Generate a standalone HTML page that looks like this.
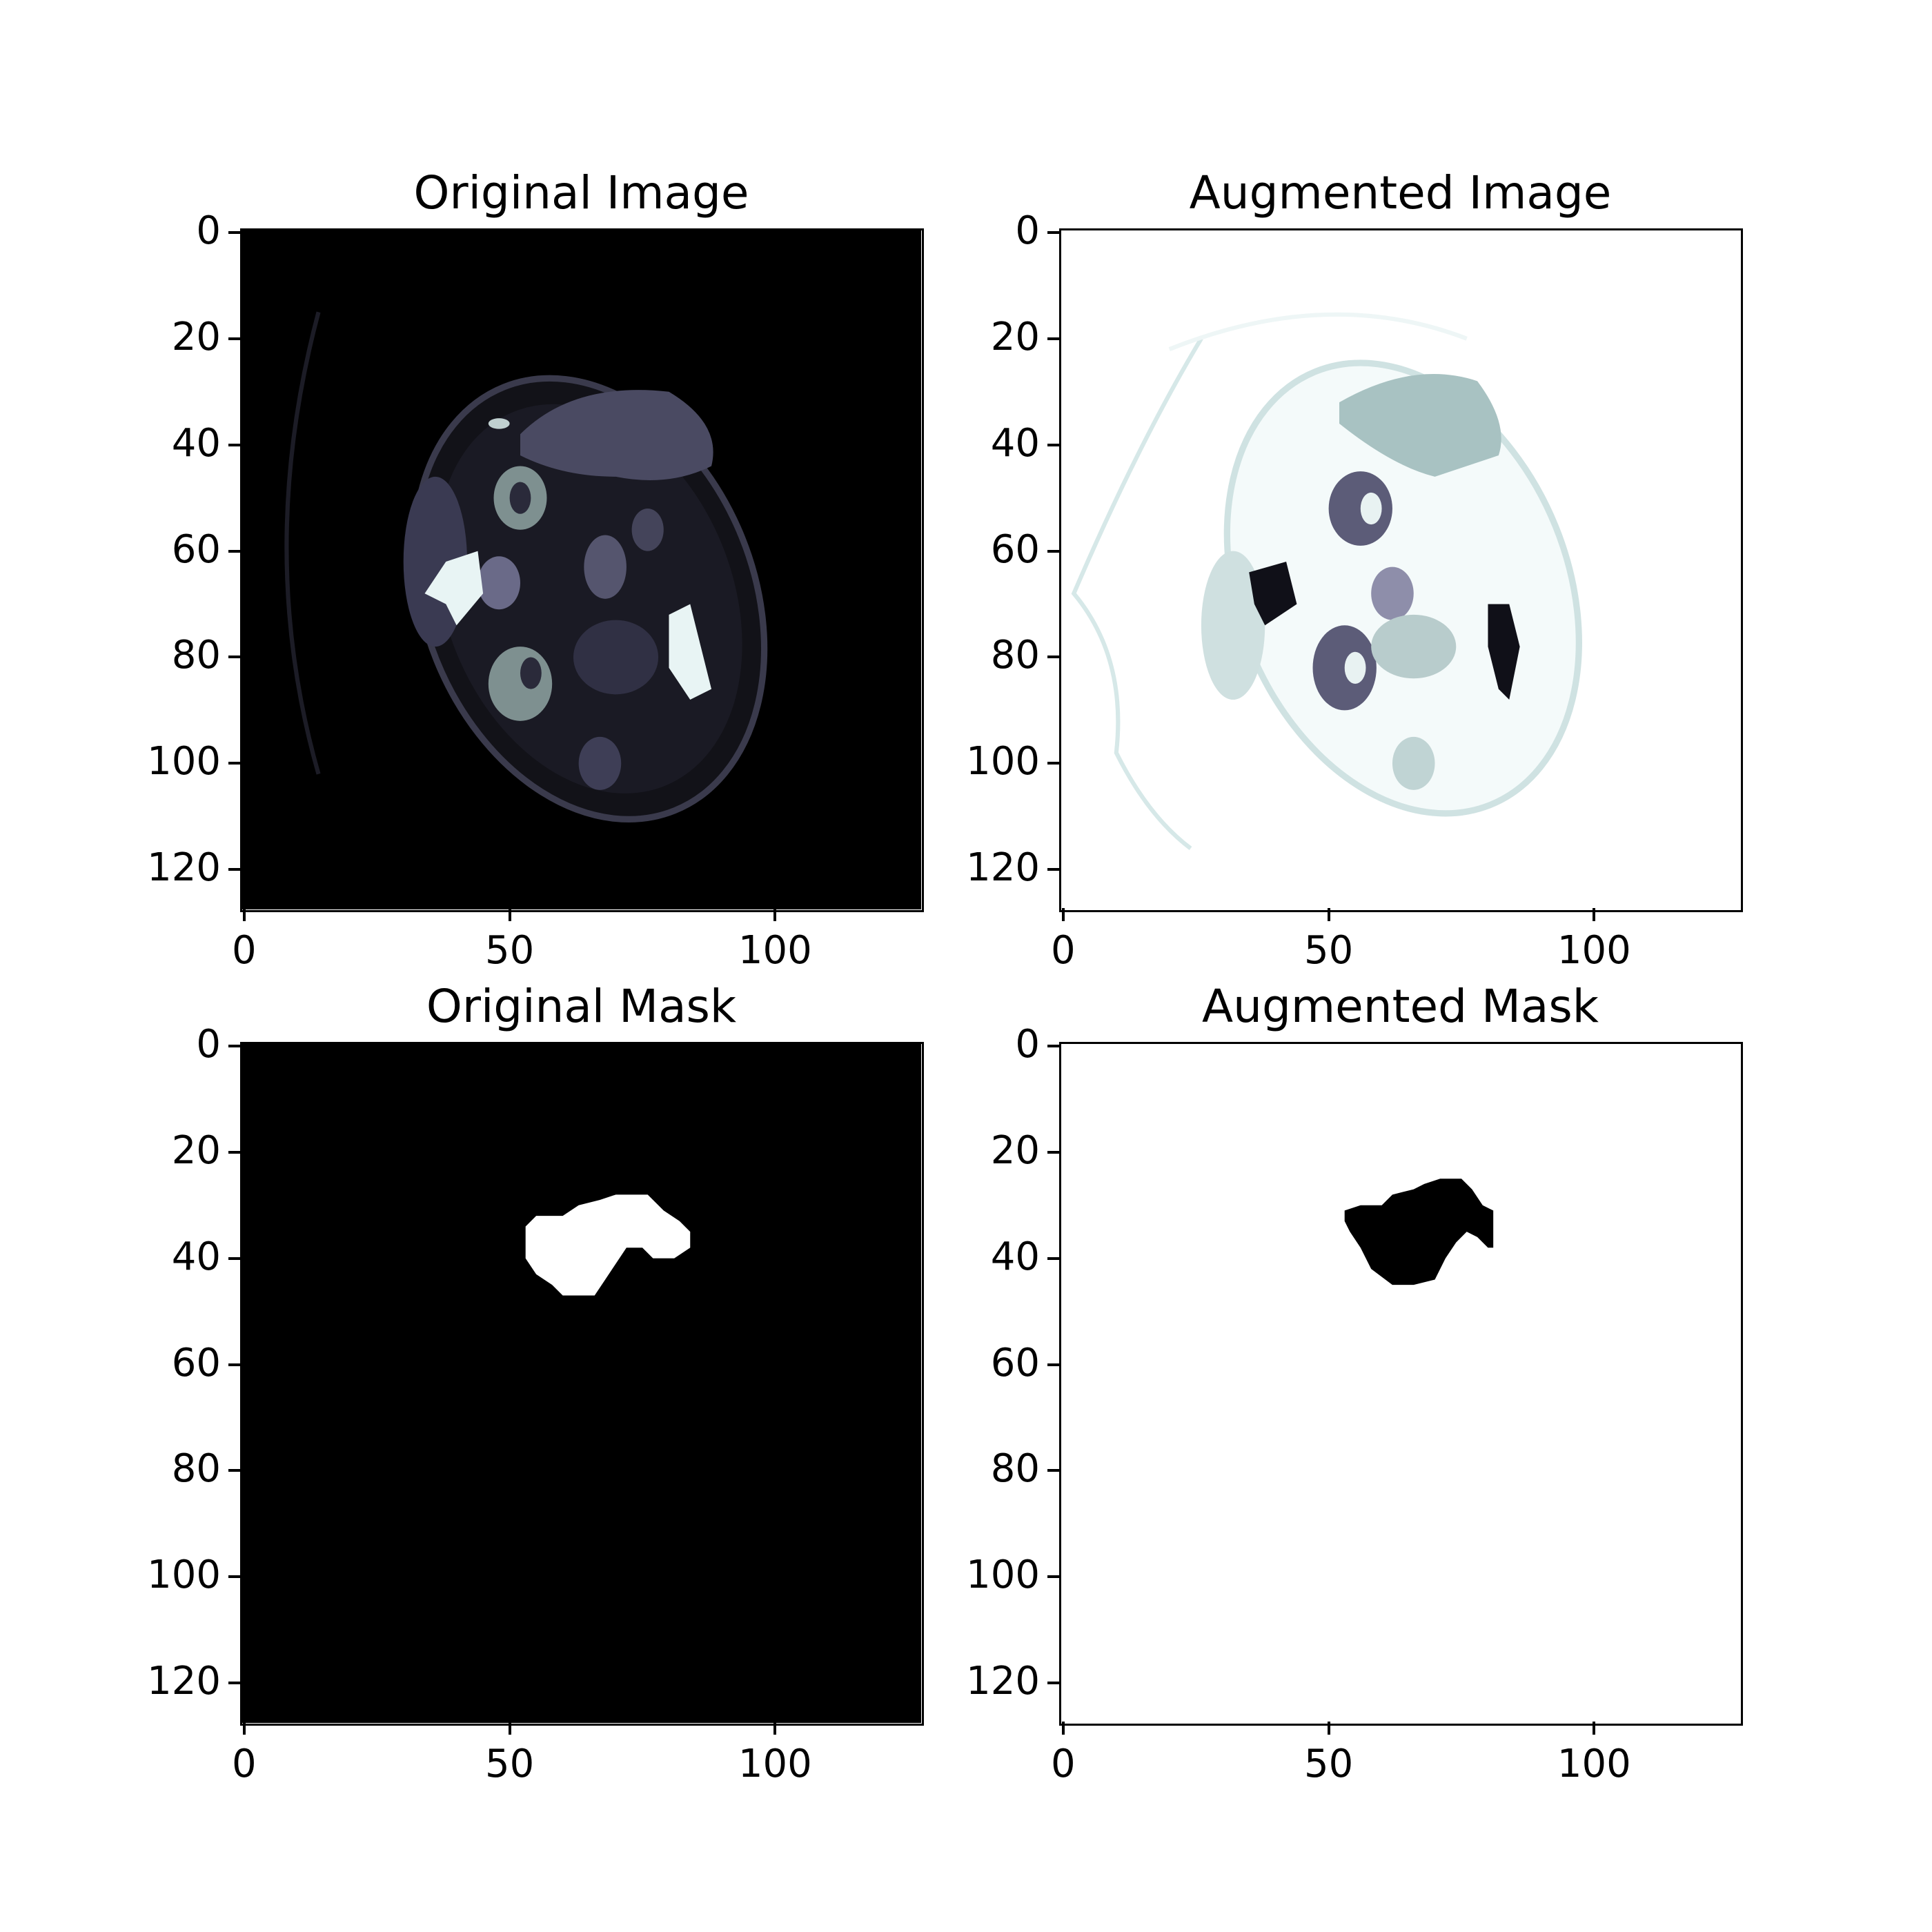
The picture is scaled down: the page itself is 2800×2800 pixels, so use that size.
<!DOCTYPE html>
<html><head><meta charset="utf-8">
<style>
html,body{margin:0;padding:0;background:#fff;}
#fig{position:relative;width:2800px;height:2800px;background:#fff;font-family:"DejaVu Sans","Liberation Sans",sans-serif;color:#000;}
.panel{position:absolute;width:985px;height:985px;box-sizing:border-box;}
.panel svg.img{position:absolute;left:0;top:0;width:985px;height:985px;}
.frame{position:absolute;left:-2px;top:-2px;width:985px;height:985px;border:3px solid #000;box-sizing:content-box;pointer-events:none;}
.title{position:absolute;top:-92px;left:0;width:985px;text-align:center;font-size:66px;white-space:nowrap;}
.tick{position:absolute;background:#000;}
.tl{position:absolute;font-size:56px;white-space:nowrap;line-height:1;}
</style></head>
<body>
<div id="fig">

<div class="panel" id="p1" style="left:350px;top:333px">
<div class="title">Original Image</div>
<svg class="img" viewBox="-0.5 -0.5 128 128" preserveAspectRatio="none">
<rect x="-0.5" y="-0.5" width="128" height="128" fill="#000"/>
<path d="M14,15 Q2,60 14,102" stroke="#1c1c26" stroke-width="0.8" fill="none"/>
<ellipse cx="65" cy="69" rx="31" ry="43" transform="rotate(-22 65 69)" fill="#121218" stroke="#3a3a4c" stroke-width="1.2"/>
<ellipse cx="65" cy="69" rx="27" ry="38" transform="rotate(-22 65 69)" fill="#1a1a24"/>
<path d="M52,38 Q62,28 80,30 Q90,36 88,44 Q80,48 70,46 Q60,46 52,42Z" fill="#4a4a62"/>
<ellipse cx="36" cy="62" rx="6" ry="16" fill="#3a3a52"/>
<ellipse cx="52" cy="50" rx="5" ry="6" fill="#7e9090"/>
<ellipse cx="52" cy="50" rx="2" ry="3" fill="#2a2a3a"/>
<ellipse cx="52" cy="85" rx="6" ry="7" fill="#7e9090"/>
<ellipse cx="54" cy="83" rx="2" ry="3" fill="#2a2a3a"/>
<ellipse cx="48" cy="66" rx="4" ry="5" fill="#6a6a88"/>
<ellipse cx="68" cy="63" rx="4" ry="6" fill="#55556e"/>
<ellipse cx="76" cy="56" rx="3" ry="4" fill="#44445a"/>
<ellipse cx="67" cy="100" rx="4" ry="5" fill="#3e3e56"/>
<ellipse cx="70" cy="80" rx="8" ry="7" fill="#303044"/>
<path d="M38,62 L44,60 L45,68 L40,74 L38,70 L34,68Z" fill="#e8f4f4"/>
<path d="M80,72 L84,70 L86,78 L88,86 L84,88 L80,82Z" fill="#e8f4f4"/>
<ellipse cx="48" cy="36" rx="2" ry="1" fill="#c0d0d0"/>
</svg>
<div class="frame"></div>
</div>

<div class="panel" id="p2" style="left:1537px;top:333px">
<div class="title">Augmented Image</div>
<svg class="img" viewBox="-0.5 -0.5 128 128" preserveAspectRatio="none">
<rect x="-0.5" y="-0.5" width="128" height="128" fill="#fff"/>
<path d="M26,20 Q14,40 2,68 Q12,80 10,98 Q16,110 24,116" stroke="#d6e8e8" stroke-width="0.8" fill="none"/>
<path d="M20,22 Q50,10 76,20" stroke="#eef6f6" stroke-width="0.8" fill="none"/>
<ellipse cx="64" cy="67" rx="31" ry="44" transform="rotate(-22 64 67)" fill="#f4fafa" stroke="#cfe2e2" stroke-width="1.2"/>
<path d="M52,32 Q66,24 78,28 Q84,36 82,42 Q76,44 70,46 Q62,44 52,36Z" fill="#a8c2c2"/>
<ellipse cx="32" cy="74" rx="6" ry="14" fill="#cfe0e0"/>
<ellipse cx="56" cy="52" rx="6" ry="7" fill="#5c5c78"/>
<ellipse cx="58" cy="52" rx="2" ry="3" fill="#e8f2f2"/>
<ellipse cx="53" cy="82" rx="6" ry="8" fill="#5c5c78"/>
<ellipse cx="55" cy="82" rx="2" ry="3" fill="#e8f2f2"/>
<ellipse cx="62" cy="68" rx="4" ry="5" fill="#8e8eaa"/>
<ellipse cx="66" cy="78" rx="8" ry="6" fill="#b8cccc"/>
<ellipse cx="66" cy="100" rx="4" ry="5" fill="#c0d4d4"/>
<path d="M35,64 L42,62 L44,70 L38,74 L36,70Z" fill="#101018"/>
<path d="M80,70 L84,70 L86,78 L84,88 L82,86 L80,78Z" fill="#101018"/>
</svg>
<div class="frame"></div>
</div>

<div class="panel" id="p3" style="left:350px;top:1512px">
<div class="title">Original Mask</div>
<svg class="img" viewBox="-0.5 -0.5 128 128" preserveAspectRatio="none">
<rect x="-0.5" y="-0.5" width="128" height="128" fill="#000"/>
<polygon fill="#fff" points="53,34 55,32 60,32 63,30 67,29 70,28 76,28 79,31 82,33 84,35 84,38 81,40 77,40 75,38 72,38 70,41 68,44 66,47 60,47 58,45 55,43 53,40"/>
</svg>
<div class="frame"></div>
</div>

<div class="panel" id="p4" style="left:1537px;top:1512px">
<div class="title">Augmented Mask</div>
<svg class="img" viewBox="-0.5 -0.5 128 128" preserveAspectRatio="none">
<rect x="-0.5" y="-0.5" width="128" height="128" fill="#fff"/>
<polygon fill="#000" points="53,31 56,30 60,30 62,28 66,27 68,26 71,25 75,25 77,27 79,30 81,31 81,38 80,38 78,36 76,35 74,37 72,40 70,44 66,45 62,45 58,42 56,38 54,35 53,33"/>
</svg>
<div class="frame"></div>
</div>

</div>
<script>
const yTicks = [0, 20, 40, 60, 80, 100, 120];
const xTicks = [0, 50, 100];
const yTickLabels = ["0", "20", "40", "60", "80", "100", "120"];
const xTickLabels = ["0", "50", "100"];
const dataMin = -0.5, dataMax = 127.5, size = 985;
function scale(v){ return (v - dataMin) / (dataMax - dataMin) * size; }
['p1','p2','p3','p4'].forEach(function(id){
  const p = document.getElementById(id);
  yTicks.forEach(function(v, i){
    const y = scale(v);
    const t = document.createElement('div');
    t.className = 'tick';
    t.style.cssText = 'left:-19px;top:' + (y - 2) + 'px;width:17px;height:4px;';
    
    
    p.appendChild(t);
    const l = document.createElement('div');
    l.className = 'tl';
    l.textContent = yTickLabels[i];
    l.style.cssText = 'right:' + (size + 30) + 'px;top:' + (y - 30) + 'px;';
    
    
    p.appendChild(l);
  });
  xTicks.forEach(function(v, i){
    const x = scale(v);
    const t = document.createElement('div');
    t.className = 'tick';
    t.style.cssText = 'left:' + (x - 2) + 'px;top:' + (size - 2) + 'px;width:4px;height:19px;';
    
    
    p.appendChild(t);
    const l = document.createElement('div');
    l.className = 'tl';
    l.textContent = xTickLabels[i];
    l.style.cssText = 'left:' + (x - 150) + 'px;width:300px;text-align:center;top:' + (size + 32) + 'px;';
    
    
    p.appendChild(l);
  });
});
</script>
</body></html>
